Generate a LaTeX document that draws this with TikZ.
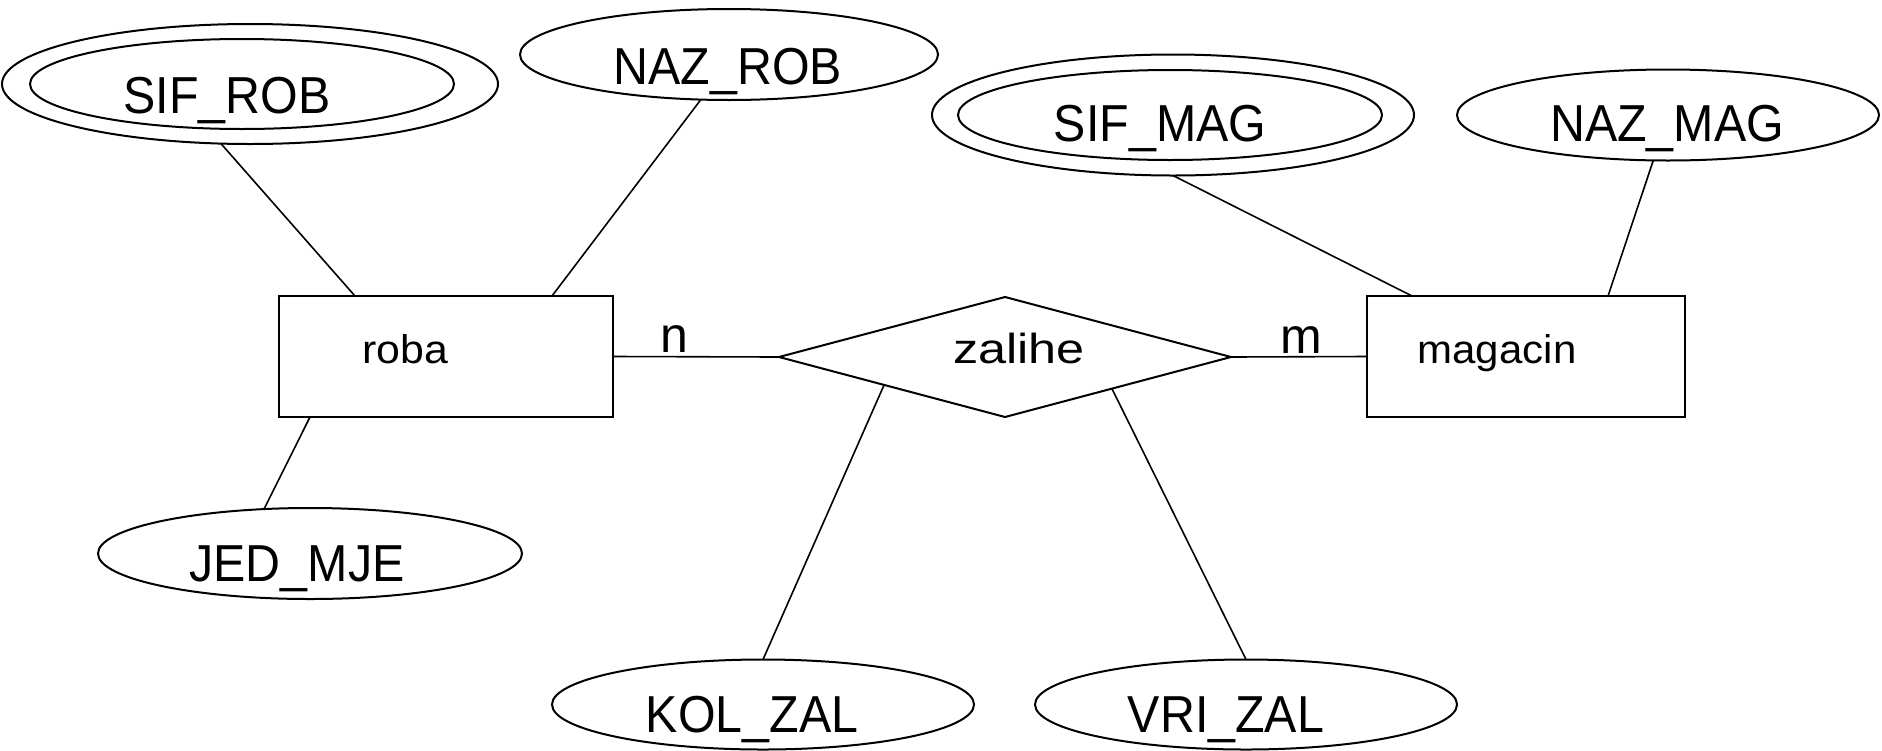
\documentclass[tikz,border=0pt]{standalone}
\usepackage{fontspec}
\setmainfont{Liberation Sans}
\usepackage{graphicx}
\usetikzlibrary{shapes.geometric,calc}
\newcommand{\sx}[2]{\scalebox{#1}[1]{#2}}
\begin{document}
\begin{tikzpicture}[x=0.5pt,y=-0.5pt,
  shp/.style={draw=black,line width=1pt,outer sep=0pt,inner sep=0pt},
  attr/.style={shp,ellipse},
  ent/.style={shp,rectangle},
  rel/.style={shp,diamond},
  conn/.style={draw=black,line width=0.8pt},
  atxt/.style={anchor=base,inner sep=0pt,font=\fontsize{26pt}{30pt}\selectfont},
  etxt/.style={anchor=base,inner sep=0pt,font=\fontsize{20pt}{24pt}\selectfont},
  rtxt/.style={anchor=base,inner sep=0pt,font=\fontsize{21pt}{25pt}\selectfont},
  ctxt/.style={anchor=base,inner sep=0pt,font=\fontsize{25pt}{30pt}\selectfont},
]
\useasboundingbox (0,0) rectangle (1882,750);

% attributes
\node[attr,minimum width=248pt,minimum height=60pt] (sifrobO) at (250,84) {};
\node[attr,minimum width=212pt,minimum height=45pt] (sifrob) at (242,84) {};
\node[atxt] (tsifrob) at (227,113) {\sx{0.93}{SIF\_ROB}};

\node[attr,minimum width=209pt,minimum height=45.5pt] (narob) at (729,54.5) {};
\node[atxt] (tnarob) at (728,84) {\sx{0.93}{NAZ\_ROB}};

\node[attr,minimum width=241pt,minimum height=60.5pt] (sifmagO) at (1173,115) {};
\node[attr,minimum width=212pt,minimum height=45pt] (sifmag) at (1170,115) {};
\node[atxt] (tsifmag) at (1160,141) {\sx{0.93}{SIF\_MAG}};

\node[attr,minimum width=211pt,minimum height=45.5pt] (namag) at (1668,115) {};
\node[atxt] (tnamag) at (1667,141) {\sx{0.93}{NAZ\_MAG}};

\node[attr,minimum width=212pt,minimum height=45.5pt] (jedmje) at (310,553.5) {};
\node[atxt] (tjedmje) at (297,581) {\sx{0.93}{JED\_MJE}};

\node[attr,minimum width=211pt,minimum height=45pt] (kolzal) at (763,704.5) {};
\node[atxt] (tkolzal) at (752,732) {\sx{0.93}{KOL\_ZAL}};

\node[attr,minimum width=211pt,minimum height=45pt] (vrizal) at (1246,704.5) {};
\node[atxt] (tvrizal) at (1226,732) {\sx{0.93}{VRI\_ZAL}};

% entities and relationship
\node[ent,minimum width=167pt,minimum height=60.5pt] (roba) at (446,356.5) {};
\node[etxt] (troba) at (405,363) {\sx{1.07}{roba}};
\node[ent,minimum width=159pt,minimum height=60.5pt] (magacin) at (1526,356.5) {};
\node[etxt] (tmagacin) at (1497,363) {\sx{1.05}{magacin}};
\node[rel,minimum width=226pt,minimum height=60pt] (zalihe) at (1005,357) {};
\node[rtxt] (tzalihe) at (1019,363) {\sx{1.2}{zalihe}};

% cardinalities
\node[ctxt] (cn) at (674,352) {n};
\node[ctxt] (cm) at (1301,353) {m};

% connectors
\draw[conn] (sifrobO.244) -- ([xshift=38pt]roba.north west);
\draw[conn] (narob.238) -- ([xshift=136.5pt]roba.north west);
\draw[conn] ([xshift=15.5pt]roba.south west) -- (jedmje.136);
\draw[conn] (roba.east) -- (zalihe.west);
\draw[conn] (zalihe.east) -- (magacin.west);
\draw[conn] (sifmagO.south) -- ([xshift=22.5pt]magacin.north west);
\draw[conn] (namag.252) -- ([xshift=120.5pt]magacin.north west);
\draw[conn] ($(zalihe.west)!0.465!(zalihe.south)$) -- (kolzal.north);
\draw[conn] ($(zalihe.south)!0.473!(zalihe.east)$) -- (vrizal.north);
\end{tikzpicture}
\end{document}
